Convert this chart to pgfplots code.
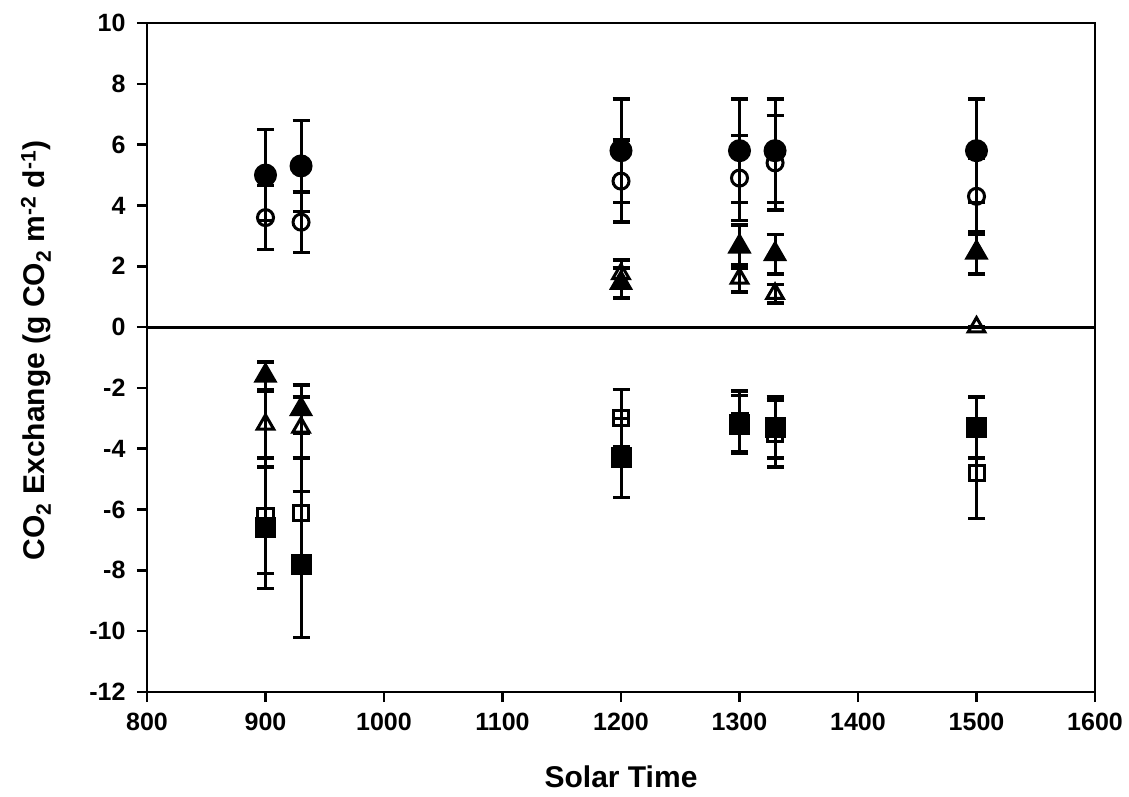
\documentclass[border=0pt]{standalone}
\usepackage{fontspec}
\setmainfont{Liberation Sans}
\usepackage{pgfplots}
\pgfplotsset{compat=1.18}
\pgfplotsset{eb/.style={black, only marks, line width=3pt,
    error bars/y dir=both, error bars/y explicit,
    error bars/error bar style={line width=3pt},
    error bars/error mark options={rotate=90, mark size=8.5pt, line width=3.5pt}}}
\begin{document}
\begin{tikzpicture}
\useasboundingbox (-147pt,-105pt) rectangle (982pt,692pt);
\begin{axis}[
  at={(0,0)}, anchor=south west,
  scale only axis, width=948pt, height=669pt,
  xmin=800, xmax=1600, ymin=-12, ymax=10,
  xtick={800,900,...,1600}, ytick={-12,-10,...,10},
  xtick pos=left, ytick pos=left, tick align=outside,
  major tick length=10pt,
  axis line style={line width=2.5pt},
  every tick/.style={black, line width=2.5pt},
  tick label style={font=\fontsize{25}{27}\selectfont\bfseries},
  /pgf/number format/assume math mode=true,
  /pgf/number format/1000 sep={},
  xticklabel style={yshift=-8pt},
  yticklabel style={xshift=-8pt},
  label style={font=\fontsize{30}{32}\selectfont\bfseries},
  xlabel={Solar Time},
  ylabel={CO\textsubscript{2} Exchange (g CO\textsubscript{2} m\textsuperscript{-2} d\textsuperscript{-1})},
  xlabel style={at={(axis description cs:0.5,0)}, anchor=center, yshift=-85pt},
  ylabel style={at={(axis description cs:0,0.5)}, anchor=center, xshift=7pt, yshift=111pt},
  clip=false,
]
\addplot[black, line width=3pt, no markers, forget plot] coordinates {(800,0) (1600,0)};
% filled circle
\addplot[eb, mark=*, mark size=10pt] table[x=x, y=y, y error=e] {
x y e
900 5.0 1.5
930 5.3 1.5
1200 5.8 1.7
1300 5.8 1.7
1330 5.8 1.7
1500 5.8 1.7
};
% open circle
\addplot[eb, mark=o, mark size=8pt] table[x=x, y=y, y error=e] {
x y e
900 3.6 1.05
930 3.45 1.0
1200 4.8 1.35
1300 4.9 1.4
1330 5.4 1.55
1500 4.3 1.25
};
% filled triangle
\addplot[eb, mark=triangle*, mark size=11pt] table[x=x, y=y, y error=e] {
x y e
900 -1.6 0.45
930 -2.7 0.8
1200 1.45 0.5
1300 2.65 0.7
1330 2.4 0.65
1500 2.45 0.7
};
% open triangle
\addplot[eb, mark=triangle, mark size=9.5pt] table[x=x, y=y, y error=e] {
x y e
900 -3.2 1.1
930 -3.3 1.0
1200 1.75 0.45
1300 1.6 0.45
1330 1.1 0.3
1500 0 0
};
% filled square
\addplot[eb, mark=square*, mark size=9pt] table[x=x, y=y, y error=e] {
x y e
900 -6.6 2.0
930 -7.8 2.4
1200 -4.3 1.3
1300 -3.2 0.95
1330 -3.3 1.0
1500 -3.3 1.0
};
% open square
\addplot[eb, mark=square, mark size=7.5pt] table[x=x, y=y, y error=e] {
x y e
900 -6.2 1.9
930 -6.1 1.8
1200 -3.0 0.95
1300 -3.1 1.0
1330 -3.5 1.1
1500 -4.8 1.5
};
\end{axis}
\end{tikzpicture}
\end{document}
